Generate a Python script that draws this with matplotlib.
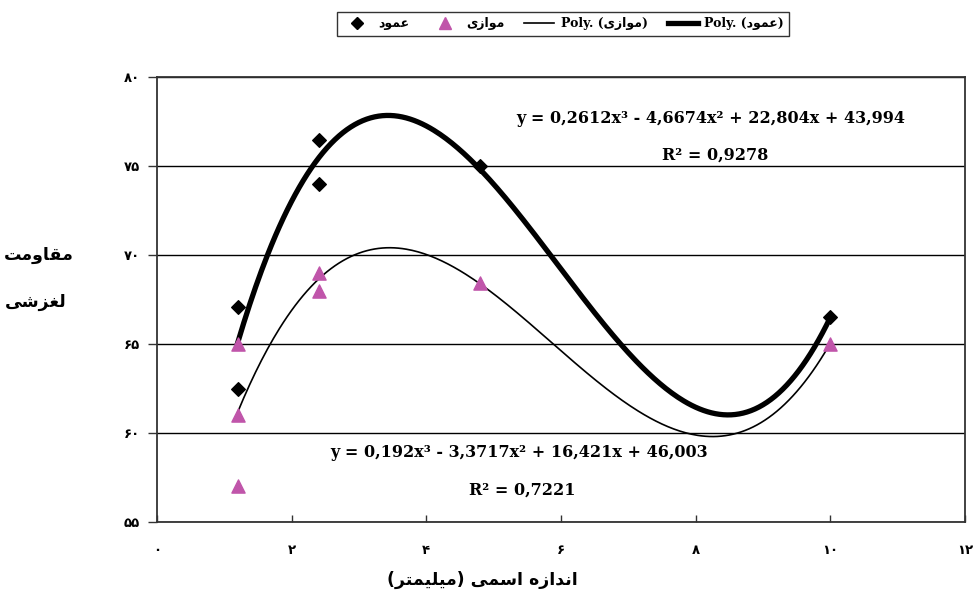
import numpy as np
import matplotlib
matplotlib.use("Agg")
import matplotlib.pyplot as plt
from matplotlib.lines import Line2D

# ---------------- data ----------------
x_amood = [1.2, 1.2, 2.4, 2.4, 4.8, 10.0]
y_amood = [67.1, 62.5, 76.45, 74.0, 75.0, 66.5]
x_movazi = [1.2, 1.2, 1.2, 2.4, 2.4, 4.8, 10.0]
y_movazi = [65.0, 61.0, 57.0, 69.0, 68.0, 68.4, 65.0]
coef_amood = [0.2612, -4.6674, 22.804, 43.994]
coef_movazi = [0.192, -3.3717, 16.421, 46.003]
r2_amood = "0,9278"
r2_movazi = "0,7221"
eq_amood = "y = 0,2612x³ - 4,6674x² + 22,804x + 43,994"
eq_movazi = "y = 0,192x³ - 3,3717x² + 16,421x + 46,003"
xticks = [0, 2, 4, 6, 8, 10, 12]
xticklabels = ["۰", "۲", "۴", "۶", "۸", "۱۰", "۱۲"]
yticks = [55, 60, 65, 70, 75, 80]
yticklabels = ["۵۵", "۶۰", "۶۵", "۷۰", "۷۵", "۸۰"]
name_amood = "عمود"
name_movazi = "موازی"
ylabel_1 = "مقاومت"
ylabel_2 = "لغزشی"
xlabel = "اندازه اسمی (میلیمتر)"

# ---------------- simple Persian shaping (presentation forms) ----------------
FORMS = {
    'ا': ('\uFE8D', '\uFE8E', None, None),
    'ت': ('\uFE95', '\uFE96', '\uFE97', '\uFE98'),
    'ن': ('\uFEE5', '\uFEE6', '\uFEE7', '\uFEE8'),
    'د': ('\uFEA9', '\uFEAA', None, None),
    'ر': ('\uFEAD', '\uFEAE', None, None),
    'ز': ('\uFEAF', '\uFEB0', None, None),
    'س': ('\uFEB1', '\uFEB2', '\uFEB3', '\uFEB4'),
    'ش': ('\uFEB5', '\uFEB6', '\uFEB7', '\uFEB8'),
    'ع': ('\uFEC9', '\uFECA', '\uFECB', '\uFECC'),
    'غ': ('\uFECD', '\uFECE', '\uFECF', '\uFED0'),
    'ق': ('\uFED5', '\uFED6', '\uFED7', '\uFED8'),
    'ل': ('\uFEDD', '\uFEDE', '\uFEDF', '\uFEE0'),
    'م': ('\uFEE1', '\uFEE2', '\uFEE3', '\uFEE4'),
    'ه': ('\uFEE9', '\uFEEA', '\uFEEB', '\uFEEC'),
    'و': ('\uFEED', '\uFEEE', None, None),
    'ی': ('\uFEEF', '\uFEF0', '\uFEF3', '\uFEF4'),
}


def fa(s):
    out = []
    n = len(s)
    for i, c in enumerate(s):
        if c not in FORMS:
            out.append(c)
            continue
        f = FORMS[c]
        prev = i > 0 and s[i - 1] in FORMS and FORMS[s[i - 1]][2] is not None
        nxt = i < n - 1 and s[i + 1] in FORMS and f[2] is not None
        if prev and nxt:
            out.append(f[3])
        elif prev:
            out.append(f[1])
        elif nxt:
            out.append(f[2])
        else:
            out.append(f[0])
    vis = "".join(reversed(out))
    vis = vis.replace("(", "\0").replace(")", "(").replace("\0", ")")
    return vis


AR_FONT = ["DejaVu Sans"]
SERIF = ["DejaVu Serif", "DejaVu Sans"]

fig = plt.figure(figsize=(9.75, 5.96), dpi=100)
L, R, T, B = 157, 965, 77, 522
ax = fig.add_axes([L / 975, 1 - B / 596, (R - L) / 975, (B - T) / 596])

xs_a = np.linspace(min(x_amood), max(x_amood), 300)
xs_m = np.linspace(min(x_movazi), max(x_movazi), 300)
ax.plot(xs_a, np.polyval(coef_amood, xs_a), color="black", lw=3.8, zorder=3)
ax.plot(xs_m, np.polyval(coef_movazi, xs_m), color="black", lw=1.2, zorder=3)
ax.scatter(x_amood, y_amood, marker="D", s=48, color="black", zorder=4)
ax.scatter(x_movazi, y_movazi, marker="^", s=90, color="#C055AA", zorder=4)

ax.set_xlim(0, 12)
ax.set_ylim(55, 80)
ax.set_xticks(xticks)
ax.set_xticklabels(xticklabels, fontfamily=AR_FONT, fontweight="bold", fontsize=9.5)
ax.set_yticks(yticks)
ax.set_yticklabels(yticklabels, fontfamily=AR_FONT, fontweight="bold", fontsize=9.5)
ax.tick_params(axis="x", direction="in", length=5, width=1, pad=16, colors="#333333")
ax.tick_params(axis="y", direction="out", length=6.5, width=1, pad=6, colors="#333333")
for lab in ax.get_xticklabels() + ax.get_yticklabels():
    lab.set_color("black")
ax.grid(axis="y", color="black", lw=1)
ax.set_axisbelow(True)
for sp in ax.spines.values():
    sp.set_color("#333333")
    sp.set_linewidth(1.3)

# equations
EQ_FS = 11.5
ax.text(8.23, 77.68, eq_amood, ha="center", va="center", fontsize=EQ_FS,
        fontfamily=SERIF, fontweight="bold")
ax.text(8.29, 75.6, "R² = " + r2_amood, ha="center", va="center", fontsize=EQ_FS,
        fontfamily=SERIF, fontweight="bold")
ax.text(5.38, 58.88, eq_movazi, ha="center", va="center", fontsize=EQ_FS,
        fontfamily=SERIF, fontweight="bold")
ax.text(5.42, 56.8, "R² = " + r2_movazi, ha="center", va="center", fontsize=EQ_FS,
        fontfamily=SERIF, fontweight="bold")

# axis labels
fig.text(39 / 975, 1 - 255 / 596, fa(ylabel_1), ha="center", va="center",
         fontsize=12.5, fontweight="bold", fontfamily=AR_FONT)
fig.text(36 / 975, 1 - 302 / 596, fa(ylabel_2), ha="center", va="center",
         fontsize=12.5, fontweight="bold", fontfamily=AR_FONT)
fig.text(482 / 975, 1 - 580 / 596, fa(xlabel), ha="center", va="center",
         fontsize=12.5, fontweight="bold", fontfamily=AR_FONT)

# legend
handles = [
    Line2D([], [], marker="D", ls="none", color="black", markersize=6),
    Line2D([], [], marker="^", ls="none", color="#C055AA", markersize=8.5),
    Line2D([], [], color="black", lw=1.2),
    Line2D([], [], color="black", lw=3.8),
]
labels = [fa(name_amood), fa(name_movazi),
          "Poly. (" + fa(name_movazi) + ")", "Poly. (" + fa(name_amood) + ")"]
leg = fig.legend(handles, labels, loc="center", bbox_to_anchor=(563 / 975, 1 - 24 / 596),
                 ncol=4, frameon=True, fancybox=False, edgecolor="black",
                 prop={"family": SERIF, "weight": "bold", "size": 9},
                 handlelength=2.4, handletextpad=0.5, columnspacing=1.6,
                 borderpad=0.45)
leg.get_frame().set_linewidth(1.0)

fig.savefig("out.png", dpi=100)
